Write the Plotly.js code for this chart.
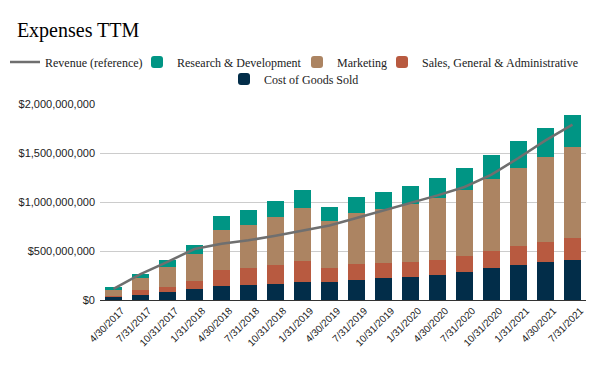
<!DOCTYPE html>
<html><head><meta charset="utf-8">
<script src="https://cdn.plot.ly/plotly-3.0.1.min.js"></script>
<style>html,body{margin:0;padding:0;background:#fff;}#chart{width:604px;height:368px;}</style>
</head><body><div id="chart"></div>
<script>
const categories = ["4/30/2017","7/31/2017","10/31/2017","1/31/2018","4/30/2018","7/31/2018","10/31/2018","1/31/2019","4/30/2019","7/31/2019","10/31/2019","1/31/2020","4/30/2020","7/31/2020","10/31/2020","1/31/2021","4/30/2021","7/31/2021"];
// cumulative tops (in $M), converted to segment values below
const cogs      = [27, 54, 85, 116, 146, 156, 167, 187, 187, 207, 228, 238, 259, 289, 330, 361, 391, 412];
const sgaTop    = [44, 99, 136, 197, 310, 330, 361, 401, 330, 364, 381, 391, 412, 452, 503, 554, 595, 636];
const mktTop    = [105, 228, 340, 473, 718, 769, 850, 942, 810, 891, 932, 983, 1044, 1126, 1238, 1350, 1463, 1565];
const rndTop    = [136, 269, 412, 565, 861, 922, 1014, 1126, 949, 1054, 1105, 1167, 1248, 1350, 1483, 1626, 1759, 1891];
const revenue   = [114, 263, 390, 520, 573, 609, 656, 707, 760, 837, 912, 990, 1068, 1153, 1279, 1449, 1629, 1789];

const M = 1e6;
const sga = sgaTop.map((v,i)=>(v-cogs[i])*M);
const mkt = mktTop.map((v,i)=>(v-sgaTop[i])*M);
const rnd = rndTop.map((v,i)=>(v-mktTop[i])*M);
const cogsV = cogs.map(v=>v*M);
const revV = revenue.map(v=>v*M);

const serif = "Liberation Serif";
const sans = "Liberation Sans";
const traces = [
  {type:'bar', name:'Cost of Goods Sold', x:categories, y:cogsV, marker:{color:'#022d49'}, legend:'legend5'},
  {type:'bar', name:'Sales, General & Administrative', x:categories, y:sga, marker:{color:'#b85a40'}, legend:'legend4'},
  {type:'bar', name:'Marketing', x:categories, y:mkt, marker:{color:'#ac8462'}, legend:'legend3'},
  {type:'bar', name:'Research & Development', x:categories, y:rnd, marker:{color:'#009584'}, legend:'legend2'},
  {type:'scatter', mode:'lines', name:'Revenue (reference)', x:categories, y:revV, line:{color:'#6f6f6f', width:2.5}, legend:'legend'}
];
const legFont = {family:serif, size:12, color:'#222'};
function leg(textX, rowY){
  return {orientation:'h', xref:'container', yref:'container', x:(textX-42)/604, xanchor:'left',
          y:1-rowY/368, yanchor:'middle', font:legFont, bgcolor:'rgba(0,0,0,0)'};
}
const layout = {
  width:604, height:368,
  margin:{l:100, r:18, t:104, b:68},
  paper_bgcolor:'#fff', plot_bgcolor:'#fff',
  font:{family:sans, color:'#222', size:11},
  title:{text:'Expenses TTM', x:0.028, xanchor:'left', y:1-30/368, yanchor:'middle', font:{family:serif, size:20, color:'#000'}},
  barmode:'stack', bargap:0.37, barcornerradius:2,
  showlegend:true,
  legend: leg(47, 62),
  legend2: leg(179, 62),
  legend3: leg(339, 62),
  legend4: leg(424, 62),
  legend5: leg(266, 79),
  xaxis:{type:'category', tickangle:-45, ticklabelshift:8, tickfont:{family:sans, size:10, color:'#222'}, showgrid:false, showline:true, linecolor:'#333', linewidth:1, ticks:''},
  yaxis:{range:[0, 2e9], tickvals:[0,5e8,1e9,1.5e9,2e9], tickformat:'$,', ticklabelstandoff:4, tickfont:{family:sans, size:11, color:'#222'}, gridcolor:'#cccccc', zeroline:false, showline:false, fixedrange:true}
};
Plotly.newPlot('chart', traces, layout, {displayModeBar:false, staticPlot:true});
</script></body></html>
